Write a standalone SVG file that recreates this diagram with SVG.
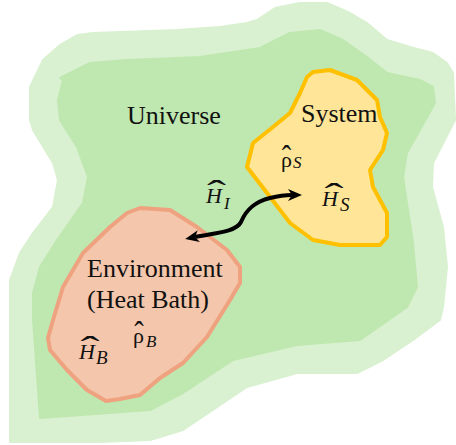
<svg xmlns="http://www.w3.org/2000/svg" width="456" height="445" viewBox="0 0 456 445">
<style>
.lbl{font-family:"Liberation Serif","Times New Roman",serif;font-size:26px;fill:#111}
.mi{font-family:"Liberation Serif","Times New Roman",serif;font-style:italic;fill:#111}
.up{font-family:"Liberation Serif","Times New Roman",serif;fill:#111}
.hat{font-family:"Liberation Serif","Times New Roman",serif;font-size:22px;fill:#111;text-anchor:middle}
</style>
<defs>
<marker id="ah" viewBox="0 0 14 12" refX="4" refY="6" markerWidth="14" markerHeight="12" markerUnits="userSpaceOnUse" orient="auto-start-reverse">
<path d="M0,0 L14,6 L0,12 L4,6 Z" fill="#000"/>
</marker>
</defs>
<g id="universe">
<path fill="#d9f1d0" stroke="#d9f1d0" stroke-width="2" stroke-linejoin="round" d="M30,87 L43,60 L60,45 L77,35 L93,33 L177,30 L220,27 L247,23 L257,20 L275,8 L300,3 L327,3 L350,13 L367,23 L387,40 L410,47 L433,53 L447,63 L453,73 L455,120 L433,163 L432,187 L443,227 L447,267 L443,307 L440,320 L413,340 L383,360 L357,373 L297,373 L247,387 L183,430 L150,440 L100,442 L10,442 L10,280 L20,253 L33,233 L53,207 L58,180 L53,163 L33,130 L30,120 Z"/>
<path fill="#bfe7b0" stroke="#bfe7b0" stroke-width="2" stroke-linejoin="round" d="M60,78 L90,63 L127,60 L200,57 L260,48 L290,33 L320,30 L343,40 L367,57 L387,73 L420,80 L433,87 L435,103 L407,153 L403,177 L413,243 L417,287 L407,307 L393,317 L360,340 L297,345 L233,360 L183,393 L150,410 L40,418 L33,320 L33,293 L40,267 L57,240 L83,203 L88,177 L77,147 L60,120 L58,100 L63,80 Z"/>
<text class="lbl" x="127" y="124">Universe</text>
</g>
<g id="system">
<path fill="#fee597" stroke="#ffc000" stroke-width="4" stroke-linejoin="round" d="M313,72 L330,70 L357,80 L377,100 L380,117 L387,133 L383,150 L370,170 L373,187 L387,213 L387,237 L380,245 L340,245 L313,240 L290,223 L267,193 L247,167 L253,143 L273,127 L290,113 L300,93 L307,77 Z"/>
<text class="lbl" x="301" y="122">System</text>
<text class="up" x="281" y="167" font-size="22">ρ</text>
<text class="hat" transform="translate(286.5,169) scale(1.3,1.5)">ˆ</text>
<text class="mi" x="293" y="168" font-size="17">S</text>
<text class="mi" x="322" y="206" font-size="22">H</text>
<text class="hat" transform="translate(334,207) scale(2.6,1.5)">ˆ</text>
<text class="mi" x="340" y="211" font-size="19">S</text>
</g>
<g id="environment">
<path fill="#f4c6ab" stroke="#efa27f" stroke-width="4" stroke-linejoin="round" d="M140,208 L170,210 L197,227 L227,250 L240,267 L240,283 L230,300 L207,337 L183,363 L160,378 L140,395 L120,399 L106,401 L87,390 L67,370 L50,350 L48,338 L53,320 L63,287 L83,253 L110,227 L127,213 Z"/>
<text class="lbl" x="87" y="277">Environment</text>
<text class="lbl" x="87" y="308">(Heat Bath)</text>
<text class="mi" x="79" y="359" font-size="22">H</text>
<text class="hat" transform="translate(90,360) scale(2.6,1.5)">ˆ</text>
<text class="mi" x="96" y="364" font-size="19">B</text>
<text class="up" x="133" y="343" font-size="22">ρ</text>
<text class="hat" transform="translate(139,345) scale(1.3,1.5)">ˆ</text>
<text class="mi" x="146" y="347" font-size="17">B</text>
</g>
<g id="interaction">
<text class="mi" x="206" y="203" font-size="22">H</text>
<text class="hat" transform="translate(216.5,204) scale(2.6,1.5)">ˆ</text>
<text class="mi" x="224" y="209" font-size="17">I</text>
</g>
<g id="connectors">
<path d="M195,237 C215,233 236,232 241,222 C246,210 254,202 270,198 C278,196 285,195 292,195" fill="none" stroke="#000" stroke-width="4" marker-start="url(#ah)" marker-end="url(#ah)"/>
</g>
</svg>
